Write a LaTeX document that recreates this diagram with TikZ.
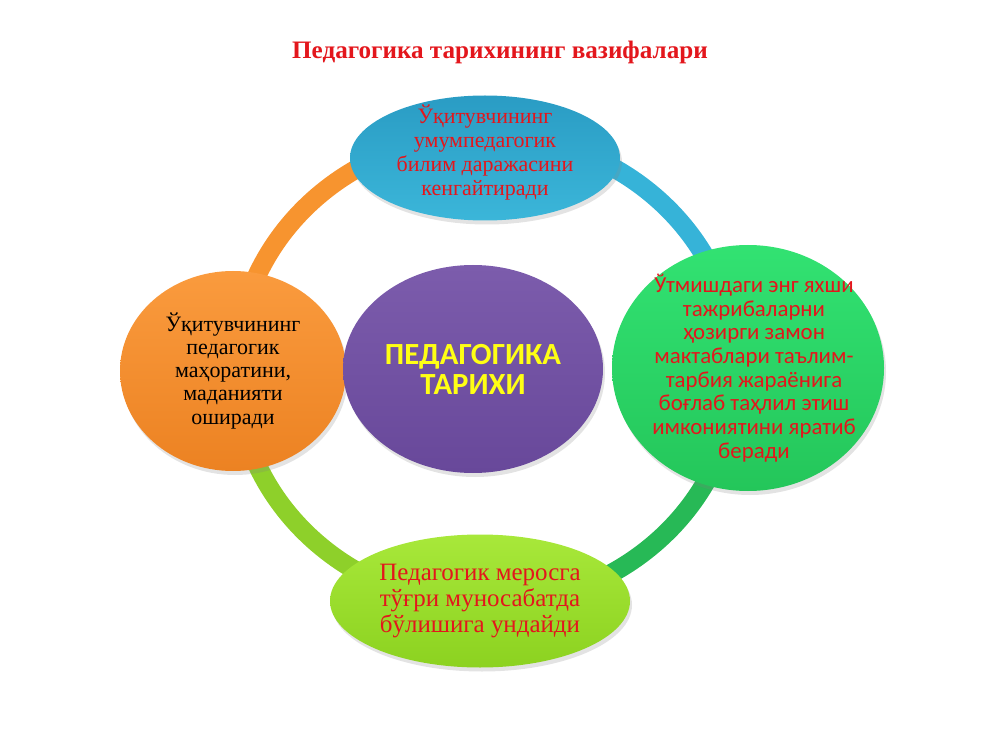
\documentclass[tikz,border=0pt]{standalone}
\usepackage{fontspec}
\setmainfont{Liberation Serif}
\newfontfamily\calibri{Carlito}
\usetikzlibrary{shapes.geometric,shadows}
\definecolor{txtred}{HTML}{E3161C}
\definecolor{ringorange}{HTML}{F7942F}
\definecolor{ringblue}{HTML}{36B3D8}
\definecolor{ringgreen}{HTML}{27B956}
\definecolor{ringlime}{HTML}{8ED02A}
\begin{document}
\begin{tikzpicture}[
  ring/.style={line width=0.38cm},
  blob/.style={ellipse, inner sep=0pt,
    drop shadow={opacity=0.22, shadow xshift=0.4mm, shadow yshift=-0.8mm}},
  lbl/.style={align=center, inner sep=0pt},
  ]
  \useasboundingbox (0,0) rectangle (20,15);
  \node[font=\bfseries\fontsize{14.3}{16}\selectfont, text=txtred] (title) at (10,13.96) {Педагогика тарихининг вазифалари};
  \coordinate (c) at (9.72,7.6);
  \draw[ring, ringblue] (c) ++(0:5 and 4.7) arc[start angle=0, end angle=90, x radius=5, y radius=4.7];
  \draw[ring, ringorange] (c) ++(90:5 and 4.7) arc[start angle=90, end angle=180, x radius=5, y radius=4.7];
  \draw[ring, ringlime] (c) ++(180:5 and 4.7) arc[start angle=180, end angle=270, x radius=5, y radius=4.7];
  \draw[ring, ringgreen] (c) ++(270:5 and 4.7) arc[start angle=270, end angle=360, x radius=5, y radius=4.7];
  \node[blob, minimum width=5.4cm, minimum height=2.5cm, top color={rgb,255:red,42;green,156;blue,196}, bottom color={rgb,255:red,59;green,182;blue,217},
    label={[lbl, name=umumtxt, text=txtred, font=\fontsize{12.5}{13.7}\selectfont, yshift=0.11cm]center:{Ўқитувчининг\\умумпедагогик\\билим даражасини\\кенгайтиради}}] (umum) at (9.7,11.84) {};
  \node[blob, minimum width=5.44cm, minimum height=4.92cm, top color={rgb,255:red,50;green,226;blue,114}, bottom color={rgb,255:red,36;green,198;blue,90},
    label={[lbl, name=tajribatxt, text=txtred, font=\calibri\fontsize{13}{13.5}\selectfont, xshift=0.12cm]center:{Ўтмишдаги энг яхши\\тажрибаларни\\ҳозирги замон\\мактаблари таълим-\\тарбия жараёнига\\боғлаб таҳлил этиш\\имкониятини яратиб\\беради}}] (tajriba) at (14.96,7.64) {};
  \node[blob, minimum width=6cm, minimum height=2.66cm, top color={rgb,255:red,168;green,232;blue,58}, bottom color={rgb,255:red,140;green,210;blue,32},
    label={[lbl, name=merostxt, text=txtred, font=\fontsize{14.2}{14.8}\selectfont]center:{Педагогик меросга\\тўғри муносабатда\\бўлишига ундайди}}] (meros) at (9.6,2.98) {};
  \node[blob, minimum width=4.52cm, minimum height=4cm, top color={rgb,255:red,250;green,155;blue,62}, bottom color={rgb,255:red,236;green,130;blue,34},
    label={[lbl, name=mahorattxt, text=black, font=\fontsize{12.5}{13.1}\selectfont]center:{Ўқитувчининг\\педагогик\\маҳоратини,\\маданияти\\оширади}}] (mahorat) at (4.66,7.58) {};
  \node[blob, minimum width=5.2cm, minimum height=4.16cm, top color={rgb,255:red,124;green,92;blue,172}, bottom color={rgb,255:red,104;green,72;blue,154},
    label={[lbl, name=tarixtxt, text={rgb,255:red,255;green,255;blue,20}, font=\calibri\bfseries\fontsize{17.5}{17}\selectfont]center:{ПЕДАГОГИКА\\ТАРИХИ}}] (tarix) at (9.46,7.62) {};
\end{tikzpicture}
\end{document}
